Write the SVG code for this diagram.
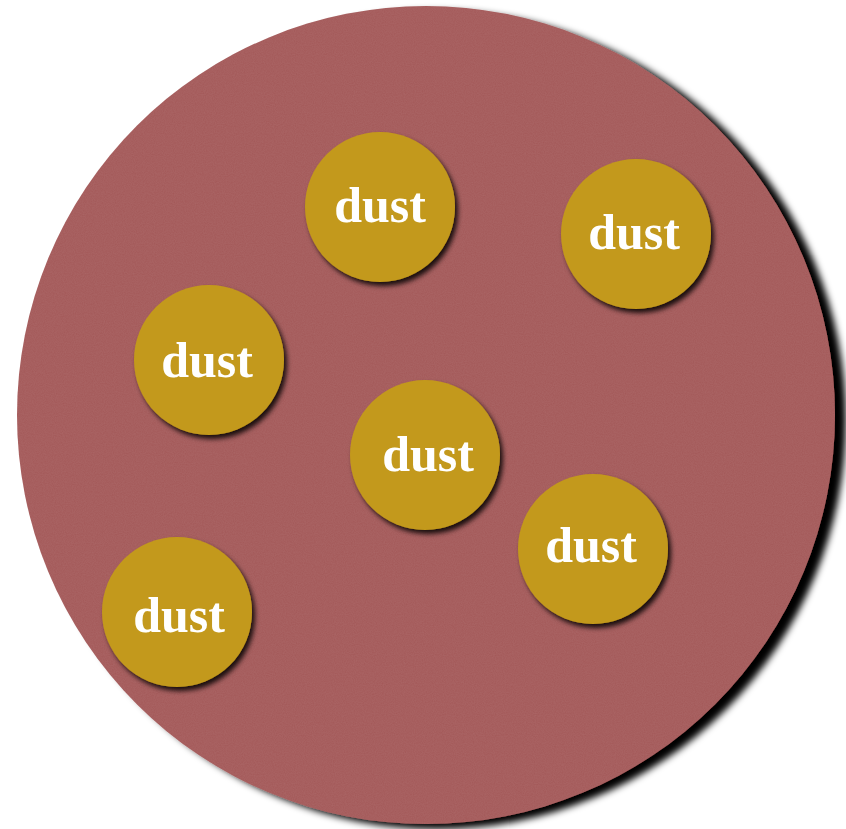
<svg xmlns="http://www.w3.org/2000/svg" width="846" height="829" viewBox="0 0 846 829">
  <defs>
    <filter id="bigShadow" x="-10%" y="-10%" width="125%" height="125%">
      <feDropShadow dx="11" dy="5" stdDeviation="3.5" flood-color="#000" flood-opacity="1"/>
    </filter>
    <filter id="dotShadow" x="-20%" y="-20%" width="150%" height="150%">
      <feDropShadow dx="3" dy="4" stdDeviation="2.5" flood-color="#000" flood-opacity="0.85"/>
    </filter>
    <filter id="grain" x="0" y="0" width="100%" height="100%">
      <feTurbulence type="fractalNoise" baseFrequency="0.9" numOctaves="2" seed="3" result="n"/>
      <feColorMatrix in="n" type="matrix" values="0 0 0 0 1  0 0 0 0 1  0 0 0 0 1  0 0 0 0.08 0"/>
      <feComposite in2="SourceGraphic" operator="in"/>
    </filter>
    <style>
      .plate { fill: #A35959; }
      .dot { fill: #C3991B; }
      .lbl { font-family: "Liberation Serif", "Times New Roman", serif; font-weight: bold; font-size: 50px; fill: #FFFFFF; text-anchor: middle; }
    </style>
  </defs>
  <rect width="846" height="829" fill="#FFFFFF"/>
  <g id="plate">
    <circle class="plate" cx="426" cy="415" r="409" filter="url(#bigShadow)"/>
    <circle class="plate" cx="426" cy="415" r="409" filter="url(#grain)"/>
  </g>
  <g id="dust1" filter="url(#dotShadow)">
    <circle class="dot" cx="380" cy="207" r="75"/>
    <text class="lbl" x="380" y="222">dust</text>
  </g>
  <g id="dust2" filter="url(#dotShadow)">
    <circle class="dot" cx="636" cy="234" r="75"/>
    <text class="lbl" x="634" y="249">dust</text>
  </g>
  <g id="dust3" filter="url(#dotShadow)">
    <circle class="dot" cx="209" cy="360" r="75"/>
    <text class="lbl" x="207" y="377">dust</text>
  </g>
  <g id="dust4" filter="url(#dotShadow)">
    <circle class="dot" cx="425" cy="455" r="75"/>
    <text class="lbl" x="428" y="471">dust</text>
  </g>
  <g id="dust5" filter="url(#dotShadow)">
    <circle class="dot" cx="593" cy="549" r="75"/>
    <text class="lbl" x="591" y="562">dust</text>
  </g>
  <g id="dust6" filter="url(#dotShadow)">
    <circle class="dot" cx="177" cy="612" r="75"/>
    <text class="lbl" x="179" y="632">dust</text>
  </g>
</svg>
